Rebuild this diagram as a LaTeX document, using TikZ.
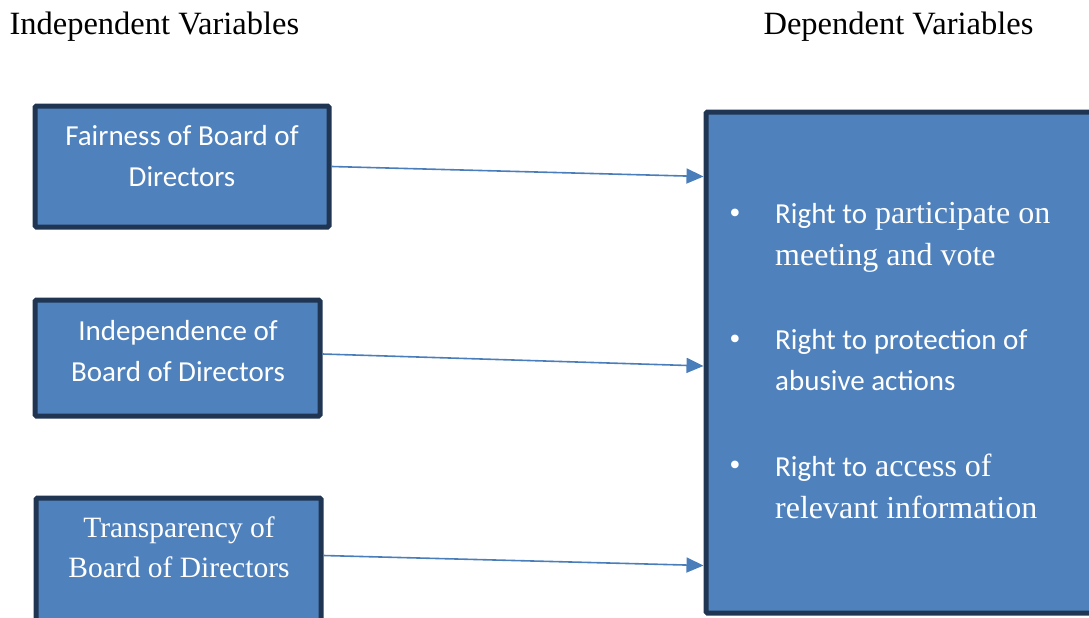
\documentclass[tikz,border=0pt]{standalone}
\usepackage{fontspec}
\setmainfont{Liberation Serif}
\newfontfamily\calfont{Carlito}
\usetikzlibrary{positioning,arrows.meta}
\definecolor{boxBlue}{HTML}{4F81BD}
\definecolor{boxEdge}{HTML}{1F3552}
\definecolor{linkBlue}{HTML}{4A7EBB}

\begin{document}
\begin{tikzpicture}[x=1pt,y=-1pt]

\tikzstyle{varBox}=[rectangle,draw=boxEdge,fill=boxBlue,line width=5pt,rounded corners=1.5pt,inner sep=0pt]
\tikzstyle{boxSans}=[text=white,align=center,inner sep=0pt,anchor=base,font=\calfont\fontsize{29}{41}\selectfont]
\tikzstyle{boxSerif}=[boxSans,font=\fontsize{29.5}{40}\selectfont]
\tikzstyle{itemSerif}=[text=white,align=left,inner sep=0pt,anchor=base west,font=\fontsize{32}{42}\selectfont]
\tikzstyle{itemSans}=[itemSerif,font=\calfont\fontsize{29}{41}\selectfont]
\tikzstyle{link}=[-{Triangle[length=17pt,width=15pt]},draw=linkBlue,line width=1.6pt]

\clip (0,0) rectangle (1089,618);

%Column Marks
\node[anchor=base west,font=\fontsize{32.5}{38}\selectfont] (indepLabel) at (6,35)   {Independent Variables};
\node[anchor=base west,font=\fontsize{32.5}{38}\selectfont] (depLabel)   at (760,35) {Dependent Variables};

%independent boxes
\node[varBox,minimum width=294pt,minimum height=121pt] (fairBox)  at (182,166.5) {};
\node[varBox,minimum width=285pt,minimum height=116pt] (indBox)   at (177.5,358) {};
\node[varBox,minimum width=285pt,minimum height=162pt] (transBox) at (178.5,579) {};

% box texts (base = last line)
\node[boxSans]  (fairText)  at (182,186) {Fairness of Board of\\Directors};
\node[boxSans]  (indText)   at (178,381) {Independence of\\Board of Directors};
\node[boxSerif] (transText) at (179,577) {Transparency of\\Board of Directors};

%dependent box
\node[varBox,minimum width=424pt,minimum height=501pt] (depBox) at (918,362.5) {};

% rights
\node[itemSerif,anchor=base] (dotVote) at (735,223) {\textbullet};
\node[itemSerif,anchor=base] (dotProt) at (735,349) {\textbullet};
\node[itemSerif,anchor=base] (dotInfo) at (735,475) {\textbullet};

\node[itemSerif] (rightVote) at (775,265) {{\calfont\fontsize{29}{42}\selectfont Right to} participate on\\meeting and vote};
\node[itemSans]  (rightProt) at (775,390) {Right to protection of\\abusive actions};
\node[itemSerif] (rightInfo) at (775,518) {{\calfont\fontsize{29}{42}\selectfont Right to} access of\\relevant information};

% connections
\draw[link] (fairBox.east) -- ([yshift=-10pt]fairBox.east -| depBox.west);
\draw[link] ([yshift=4pt]indBox.east) -- ([yshift=-8pt]indBox.east -| depBox.west);
\draw[link] ([yshift=-60pt]transBox.north east) -- ([yshift=-70pt]transBox.north east -| depBox.west);

\end{tikzpicture}
\end{document}
